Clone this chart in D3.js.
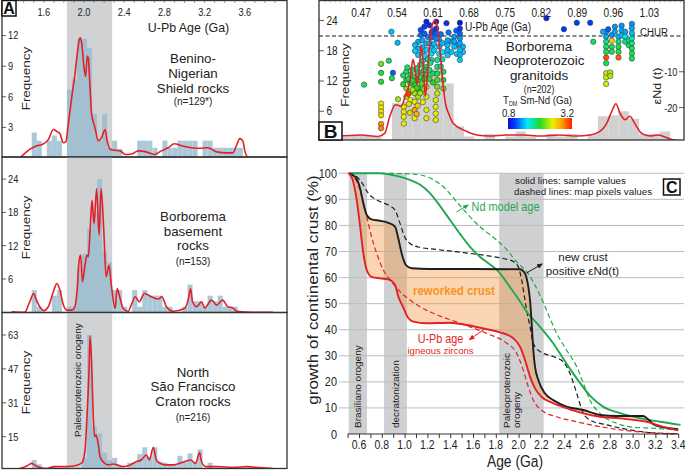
<!DOCTYPE html>
<html><head><meta charset="utf-8">
<script src="https://cdn.jsdelivr.net/npm/d3@7"></script>
<style>
html,body{margin:0;padding:0;background:#fff;}
svg text{font-family:"Liberation Sans",Arial,Helvetica,sans-serif;}
</style></head><body>
<svg id="chart" width="685" height="470"></svg>
<script>
// ================= DATA =================
// Panel A : zircon U-Pb ages (bins of 0.05 Ga)
const binStartsA = [1.48,1.53,1.58,1.63,1.68,1.73,1.78,1.83,1.88,1.93,1.98,2.03,2.08,2.13,2.18,2.23,2.28,2.33,2.38,2.43,2.48,2.53,2.58,2.63,2.68,2.73,2.78,2.83,2.88,2.93,2.98,3.03,3.08,3.13,3.18,3.23,3.28,3.33,3.38,3.43,3.48,3.53,3.58];
const binWidthA = 0.05;
const beninoCounts = [2.5,1.7,0,1.7,2.2,1.7,0,6.7,7.7,11.7,11.7,10.8,4.3,1.7,4.3,1.0,1.7,0.9,0,0,0,1.7,1.7,1.7,1.0,0,1.7,1.0,1.0,1.7,1.7,1.7,1.7,0,1.7,1.7,1.0,1.0,1.0,1.0,1.0,1.0,0];
const basementCounts = [4,1,0,0,3,4,0,1,1,8,10.5,15,18,24,11,9,4,4,1,0,4,1,4,3,3,3,1,1,0,0,1,5,2,2,1,3,2,3,1,1,1,0,0];
const saoFranciscoCounts = [4,2,0,0,1.2,0,0,0,0,0,5,63,20,16.6,7.5,4,5,1.6,0,2.7,2.7,6.8,10,5.6,10,3.2,2.7,2,2,6,3.2,7.1,3.2,9,0,2.7,0,0,0,0,0.9,0,0];
const beninoKde = [[1.36,0],[1.46,0.85],[1.53,1.2],[1.58,1.3],[1.645,1.8],[1.695,2.8],[1.73,2.6],[1.76,2.4],[1.795,1.5],[1.82,1.6],[1.84,3],[1.877,5.9],[1.91,8.2],[1.933,10.2],[1.96,11.8],[1.976,11.3],[2.0,8.9],[2.016,8.0],[2.033,10],[2.043,9.8],[2.06,6.9],[2.076,4.3],[2.109,3],[2.142,1.7],[2.175,2],[2.21,2.8],[2.23,1.7],[2.26,0.85],[2.31,0.75],[2.36,0.7],[2.41,0.35],[2.475,0.4],[2.54,0.7],[2.62,0.6],[2.70,0.35],[2.77,0.7],[2.837,1.0],[2.90,1.4],[2.97,1.2],[3.07,1.0],[3.15,0.95],[3.23,1.0],[3.32,0.6],[3.42,0.5],[3.48,0.5],[3.52,1.3],[3.55,1.9],[3.58,1.7],[3.60,0.7],[3.63,0.1],[3.75,0]];
const basementKde = [[1.28,0.1],[1.41,0],[1.46,1.9],[1.50,3.4],[1.52,2.5],[1.56,1.0],[1.60,0.3],[1.645,1],[1.695,3.7],[1.73,5.2],[1.76,4.0],[1.795,1.3],[1.83,0.4],[1.88,0.4],[1.91,1.0],[1.933,4.3],[1.95,9.1],[1.966,10.3],[1.985,5.5],[2.01,8.5],[2.03,10.3],[2.043,10],[2.06,14.5],[2.08,20.2],[2.10,16],[2.126,22.3],[2.15,13.9],[2.17,22.3],[2.196,15.1],[2.22,6.4],[2.25,8.5],[2.27,5.2],[2.31,0.7],[2.33,4.3],[2.355,2.8],[2.39,0.7],[2.44,0.2],[2.47,1.3],[2.51,2.8],[2.55,1.9],[2.60,3.4],[2.67,2.8],[2.74,2.4],[2.775,2.8],[2.82,1.0],[2.885,0.2],[3.0,0.7],[3.04,2.5],[3.06,4.3],[3.08,1.9],[3.12,1.0],[3.17,1.9],[3.20,0.8],[3.27,2.2],[3.32,1.3],[3.38,2.2],[3.43,1.0],[3.48,0.8],[3.52,0.2],[3.68,0],[3.88,0]];
const saoFranciscoKde = [[1.36,0],[1.43,1.2],[1.48,2.4],[1.51,1.6],[1.56,0.5],[1.63,0],[1.70,0.9],[1.83,0.9],[1.93,1.5],[1.98,2.7],[2.01,8.7],[2.033,27.6],[2.05,46.5],[2.06,62.5],[2.075,51],[2.09,27.6],[2.105,15],[2.12,15.8],[2.14,11.9],[2.16,5.6],[2.20,2.7],[2.24,1.7],[2.29,2.1],[2.33,1.7],[2.39,0.9],[2.46,1.7],[2.52,3.2],[2.57,4.0],[2.62,6.4],[2.65,4.0],[2.69,10],[2.72,4],[2.76,2.4],[2.82,1.7],[2.89,1.7],[2.97,2.7],[3.06,4.0],[3.11,2.4],[3.15,7.5],[3.17,3.2],[3.21,0.9],[3.32,0.9],[3.49,0.5],[3.62,0.9],[3.75,0.4],[3.88,0]];
const ageTicksA = [1.6,2.0,2.4,2.8,3.2,3.6];
const beninoTicks = [3,6,9,12];
const basementTicks = [6,12,18,24];
const saoFranciscoTicks = [15,31,47,63];
const orogenyBandA = [1.83,2.28];

// Panel B : Borborema Neoproterozoic granitoids
const binStartsB = [0.43,0.45,0.47,0.49,0.51,0.53,0.55,0.57,0.59,0.61,0.63,0.65,0.67,0.69,0.71,0.73,0.75,0.77,0.79,0.81,0.83,0.85,0.87,0.89,0.91,0.93,0.95,0.97,0.99,1.01,1.03,1.05,1.07];
const binWidthB = 0.02;
const granitoidCounts = [1.0,1.2,1.2,1.0,0,7.6,8.0,12.0,14.0,14.5,11.5,3.0,1.0,0.5,1.5,0.5,1.0,2.0,1.0,0.5,1.5,1.0,1.5,0.5,1.5,5.0,5.2,6.0,4.5,1.5,1.5,2.0,0.5];
const granitoidKde = [[0.42,1.0],[0.47,1.3],[0.503,1.0],[0.516,1.6],[0.526,5],[0.537,7.3],[0.548,7],[0.556,9],[0.565,12],[0.571,16.3],[0.575,14.3],[0.579,11.3],[0.584,15.6],[0.587,19],[0.591,15],[0.595,9],[0.600,15],[0.605,21],[0.610,23.6],[0.614,24],[0.618,23],[0.623,18.3],[0.629,11.6],[0.634,7.5],[0.640,5.6],[0.649,3.6],[0.669,2.3],[0.695,1.3],[0.72,1.1],[0.753,1.3],[0.785,1.3],[0.818,1.1],[0.856,1.3],[0.889,1.1],[0.915,1.3],[0.934,2],[0.947,3.6],[0.957,6],[0.965,7.5],[0.973,5.6],[0.983,4.3],[0.992,5],[1.002,3.5],[1.015,1.6],[1.031,1.1],[1.047,1.3],[1.057,1.0],[1.077,0.3],[1.10,0],[1.18,0]];
// [U-Pb age (Ga), eNd(t), TDM (Ga)]
const granitoidPoints = [
[0.476,-13.6,1.9],[0.509,-7.8,2.2],[0.509,-10.3,1.9],[0.509,-12.8,2.0],
[0.509,-18.9,2.5],[0.509,-20.0,2.5],[0.509,-21.1,2.55],[0.509,-22.2,2.6],[0.509,-24.6,2.85],[0.509,-25.8,2.9],
[0.524,-6.9,1.9],[0.530,-11.8,1.9],[0.532,-10.3,1.15],[0.529,1.2,1.4],[0.541,-1.9,1.4],[0.542,-17.7,2.3],
[0.553,-19.8,2.45],[0.553,-21.2,2.45],[0.553,-22.6,2.5],[0.553,-24.5,2.5],
[0.558,-10.0,1.9],[0.558,-12.3,1.95],[0.558,-14.7,2.2],[0.558,-17.0,2.4],
[0.566,-10.9,1.9],[0.566,-13.3,2.0],[0.566,-15.6,2.4],[0.566,-17.9,2.5],
[0.574,-11.4,1.9],[0.574,-13.7,2.0],[0.574,-16.0,2.3],[0.574,-18.4,2.5],[0.574,-20.7,2.8],[0.574,-23.0,2.5],
[0.581,-10.0,1.85],[0.581,-12.3,1.9],[0.581,-14.7,2.1],[0.581,-17.0,2.3],
[0.588,-10.9,1.9],[0.588,-13.3,2.1],[0.588,-15.6,2.3],
[0.597,-8.6,1.85],[0.597,-10.9,1.9],[0.597,-14.2,2.35],[0.597,-17.0,2.45],[0.597,-20.7,2.5],[0.597,-23.0,2.5],
[0.562,-16.2,3.1],[0.562,-12.0,1.9],[0.570,-12.5,1.95],[0.578,-14.5,2.05],[0.585,-11.5,1.9],[0.593,-12.0,2.0],
[0.552,-11.0,1.9],[0.552,-13.5,2.0],[0.560,-8.8,1.85],[0.570,-9.5,1.85],[0.578,-9.0,1.85],[0.585,-16.0,2.3],[0.592,-9.5,1.85],[0.592,-14.8,2.2],
[0.603,-9.5,1.85],[0.603,-12.0,1.95],[0.610,-10.5,1.9],[0.610,-13.0,2.0],[0.570,-15.0,2.3],[0.563,-19.0,2.55],[0.580,-19.5,2.6],[0.590,-18.5,2.5],[0.565,-21.5,2.6],[0.578,-21.8,2.75],
[0.581,-1.6,1.35],[0.581,-3.5,1.4],[0.581,-5.3,1.45],[0.589,-1.2,1.35],[0.589,-3.1,1.4],[0.589,-4.9,1.5],
[0.597,-2.1,1.4],[0.597,-3.9,1.45],[0.607,-3.1,1.4],[0.607,-4.9,1.5],[0.607,-6.7,1.7],
[0.575,-2.5,1.4],[0.575,-4.2,1.45],[0.594,-5.6,1.5],[0.603,-2.0,1.4],[0.612,-2.2,1.4],[0.612,-4.0,1.45],[0.622,-1.0,1.35],[0.622,-3.0,1.4],[0.622,-5.0,1.5],
[0.645,-1.5,1.35],[0.645,-4.5,1.45],[0.656,-2.5,1.4],[0.656,-5.0,1.45],[0.668,-3.0,1.4],[0.668,-4.5,1.45],
[0.603,3.0,1.0],[0.610,1.5,1.1],[0.625,0.5,1.2],[0.640,1.0,1.2],[0.655,1.5,1.15],[0.600,-0.3,1.25],
[0.586,1.7,1.1],[0.586,0.3,1.2],[0.593,2.6,1.05],[0.593,0.7,1.15],[0.597,4.0,0.9],[0.616,4.0,0.85],[0.607,1.0,1.1],[0.607,-0.4,1.2],[0.616,2.1,1.05],[0.616,0.7,1.15],[0.616,-0.7,1.25],
[0.600,-6.5,1.7],[0.605,-7.5,1.8],[0.590,-7.0,1.7],[0.585,-8.0,1.8],
[0.618,-6.7,1.7],[0.618,-8.6,1.8],[0.618,-10.5,1.9],[0.618,-12.3,2.1],[0.618,-14.2,2.2],[0.618,-16.1,2.4],
[0.615,-17.9,2.45],[0.615,-19.8,2.45],[0.615,-21.7,2.5],[0.615,-23.5,2.5],
[0.636,3.6,1.0],[0.662,3.7,0.85],
[0.662,2.1,1.05],[0.662,0.7,1.15],[0.662,-0.7,1.3],[0.662,-2.1,1.35],[0.662,-3.9,1.4],[0.662,-5.3,1.4],[0.662,-6.7,1.45],
[0.651,-0.2,1.3],[0.651,-1.6,1.35],[0.651,-3.0,1.4],
[0.638,-1.2,1.35],[0.638,-2.6,1.4],[0.638,-4.0,1.4],[0.638,-5.4,1.45],
[0.630,-10.0,1.9],[0.630,-12.3,2.0],[0.630,-14.7,2.2],
[0.628,-2.0,1.4],[0.628,-4.5,1.5],[0.628,-6.5,1.7],[0.625,-8.5,1.8],
[0.830,5.0,0.95],[0.864,1.9,1.05],[0.889,3.7,1.05],[0.915,3.7,1.05],[0.921,-1.6,1.85],
[0.946,1.2,1.3],[0.946,-0.2,1.35],[0.946,-1.6,1.8],[0.946,-3.0,1.85],[0.946,-4.4,1.9],[0.946,-6.0,3.05],[0.946,-7.6,1.9],[0.946,-10.4,2.4],[0.946,-11.6,2.4],[0.946,-13.4,2.45],
[0.954,-10.2,2.35],[0.954,-11.2,2.35],
[0.957,0.3,1.3],[0.957,-1.3,2.6],[0.957,-3.0,1.9],[0.957,-4.4,1.9],
[0.963,2.6,1.3],[0.963,1.2,1.35],
[0.970,-0.2,1.4],[0.970,-1.6,1.85],[0.970,-3.0,1.9],[0.970,-4.4,1.9],[0.970,-6.0,3.0],
[0.976,2.9,1.3],[0.976,1.5,1.35],[0.976,0.1,1.4],
[0.983,1.2,1.35],[0.983,-0.2,1.5],[0.983,-1.6,1.8],
[0.990,-1.2,1.8],[0.990,-2.6,1.85],
[0.996,3.4,1.3],[0.996,2.2,1.35],[0.996,0.8,1.4],[0.996,-0.7,1.7],[0.996,-2.1,1.8],[0.996,-3.5,1.85],[0.996,-4.9,1.9],[0.996,-6.3,1.9],
[0.940,1.2,1.35],[0.950,1.9,1.15]
];
const ageTicksB = [0.47,0.54,0.61,0.68,0.75,0.82,0.89,0.96,1.03];
const freqTicksB = [6,12,18,24];
const eNdTicksB = [-10,-20];
const tdmRange = [0.8,3.2];

// Panel C : crustal growth curves [age (Ga), %]
const bandsC = [[0.51,0.67],[0.82,1.02],[1.83,2.22]];
const ageTicksC = [0.6,0.8,1.0,1.2,1.4,1.6,1.8,2.0,2.2,2.4,2.6,2.8,3.0,3.2,3.4];
const pctTicksC = [0,10,20,30,40,50,60,70,80,90,100];
const newCrustSample = [[0.51,100],[0.565,98.7],[0.61,94.2],[0.638,88.5],[0.668,84],[0.71,82.3],[0.784,81.8],[0.857,81],[0.916,79.5],[0.945,75],[0.974,69.3],[1.012,64.8],[1.062,63.6],[1.22,63.3],[1.6,63.3],[2.01,63.2],[2.056,61.6],[2.085,56.5],[2.1,51.4],[2.12,38.6],[2.129,32.2],[2.144,25.8],[2.173,20.7],[2.23,15.6],[2.304,13],[2.42,10.5],[2.568,9.2],[2.714,7.3],[2.86,6.9],[3.006,6.9],[3.094,6.9],[3.138,5.6],[3.18,3.8],[3.27,2.6],[3.40,1.8]];
const newCrustMap = [[0.51,100],[0.58,98.7],[0.638,95.5],[0.682,92.3],[0.755,89.8],[0.857,87.8],[0.916,85.9],[0.96,80.8],[1.0,75.7],[1.047,73.1],[1.135,71.6],[1.28,70.8],[1.515,69.6],[1.75,68.2],[1.896,67],[1.953,66.2],[1.997,64.2],[2.027,59],[2.056,51.4],[2.07,47.6],[2.1,41.2],[2.129,34.8],[2.188,31.6],[2.304,29.7],[2.392,27.7],[2.45,23.3],[2.51,15.6],[2.568,7.9],[2.626,5.4],[2.773,3.5],[2.948,1.8],[3.153,0.5],[3.40,0]];
const upbSample = [[0.51,100],[0.545,97.4],[0.58,89.8],[0.61,79.5],[0.638,69.3],[0.668,62.9],[0.71,60.3],[0.784,59.7],[0.857,59.3],[0.916,57.2],[0.945,52.7],[0.989,48.5],[1.018,45.5],[1.076,43.1],[1.194,42.5],[1.398,42.7],[1.545,41.8],[1.72,40.2],[1.837,39],[1.954,36.7],[2.012,33.5],[2.056,28.4],[2.1,22],[2.144,17.5],[2.2,14.3],[2.304,11.8],[2.42,9.9],[2.568,7.9],[2.714,6.6],[2.89,6],[3.006,5.4],[3.124,4.7],[3.24,3.1],[3.40,1.4]];
const upbMap = [[0.51,100],[0.55,98.7],[0.594,95.5],[0.638,88.5],[0.682,80.8],[0.71,75.7],[0.755,69.3],[0.813,62.9],[0.887,58.4],[0.96,54.6],[1.047,51.4],[1.135,48.8],[1.252,46.3],[1.486,42.5],[1.72,38.6],[1.896,34.8],[1.983,31],[2.041,24.5],[2.085,18.1],[2.129,13],[2.2,9.2],[2.334,6.6],[2.51,4.7],[2.714,2.8],[2.948,1.3],[3.18,0.5],[3.40,0.1]];
const ndSample = [[0.51,100],[0.78,100],[0.93,99],[1.05,97.4],[1.14,95.5],[1.22,92.5],[1.31,87.5],[1.40,82],[1.49,76.5],[1.57,72],[1.66,68],[1.75,65],[1.82,62.5],[1.93,56],[2.01,51],[2.07,47],[2.19,41],[2.30,35],[2.42,27],[2.54,19.5],[2.63,14.5],[2.74,10.5],[2.89,8],[3.07,6],[3.24,4.7],[3.42,3.5]];
const ndMap = [[0.51,100],[0.80,100],[1.076,99.7],[1.194,98.7],[1.282,96.8],[1.369,93.6],[1.457,89.1],[1.545,84.7],[1.661,79.5],[1.808,74.4],[1.90,70.5],[1.983,66],[2.07,62.3],[2.19,53],[2.25,47],[2.334,38.6],[2.42,32.2],[2.51,25.8],[2.568,19.4],[2.626,13],[2.714,7.9],[2.86,4.1],[3.006,2.6],[3.18,2.2],[3.40,1.5]];

// ================= DRAWING =================
const svg = d3.select("#chart");
const defs = svg.append("defs");
const RED = "#e41f26", GREEN = "#1fa84f", BLACK = "#1e1e1e", INK = "#222";
const SX = 0.84;

function label(g, x, y, str, size, o = {}) {
  const t = g.append("text")
    .attr("transform", o.rot ? `translate(${x},${y}) rotate(-90) scale(1,${SX})` : `translate(${x},${y}) scale(${o.sx || SX},1)`)
    .attr("font-size", size)
    .attr("text-anchor", o.anchor || "start")
    .attr("fill", o.fill || INK);
  if (o.bold) t.attr("font-weight", "bold");
  t.text(str);
  return t;
}
function boxLabel(x, y, w, h, ch, size) {
  svg.append("rect").attr("x", x).attr("y", y).attr("width", w).attr("height", h)
    .attr("fill", "#fff").attr("stroke", "#111").attr("stroke-width", 1.5);
  label(svg, x + w / 2, y + h - 2.5, ch, size, {anchor: "middle", bold: true, fill: "#111", sx: 1});
}

// ---------- Panel A ----------
const xA = d3.scaleLinear().domain([1.2, 4.0]).range([3.6, 285]);
const panelsA = [
  {top: 0.5, bottom: 157, y: d3.scaleLinear().domain([0, 12]).range([158, 35.6]), counts: beninoCounts, kde: beninoKde, ticks: beninoTicks,
   lines: ["Benino-", "Nigerian", "Shield rocks"], n: "(n=129*)", ty: [62.5, 77.5, 92.5, 105], fy: 78.5},
  {top: 157, bottom: 312.5, y: d3.scaleLinear().domain([0, 24]).range([312.3, 179.1]), counts: basementCounts, kde: basementKde, ticks: basementTicks,
   lines: ["Borborema", "basement", "rocks"], n: "(n=153)", ty: [221, 235.7, 250.2, 264.5], fy: 227.5},
  {top: 312.5, bottom: 468.5, y: d3.scaleLinear().domain([0, 63]).range([468.5, 335]), counts: saoFranciscoCounts, kde: saoFranciscoKde, ticks: saoFranciscoTicks,
   lines: ["North", "São Francisco", "Craton rocks"], n: "(n=216)", ty: [376.5, 391, 405.5, 421], fy: 382.5}
];
panelsA.forEach((p, i) => {
  const g = svg.append("g");
  const cid = "clipA" + i;
  defs.append("clipPath").attr("id", cid).append("rect")
    .attr("x", 2).attr("y", p.top).attr("width", 285).attr("height", p.bottom - p.top);
  const c = g.append("g").attr("clip-path", `url(#${cid})`);
  c.append("rect").attr("x", xA(orogenyBandA[0])).attr("y", p.top)
    .attr("width", xA(orogenyBandA[1]) - xA(orogenyBandA[0])).attr("height", p.bottom - p.top).attr("fill", "#d1d2d4");
  c.selectAll("rect.bar").data(binStartsA.map((b, j) => ({b, v: p.counts[j]})).filter(d => d.v > 0)).join("rect")
    .attr("class", "bar")
    .attr("x", d => xA(d.b)).attr("width", d => xA(d.b + binWidthA) - xA(d.b))
    .attr("y", d => p.y(d.v)).attr("height", d => p.y(0) - p.y(d.v))
    .attr("fill", "#98bcd1").attr("opacity", 0.82);
  c.append("path").datum(p.kde)
    .attr("d", d3.line().x(d => xA(d[0])).y(d => p.y(d[1])).curve(d3.curveMonotoneX))
    .attr("fill", "none").attr("stroke", RED).attr("stroke-width", 1.6);
  p.ticks.forEach(t => {
    g.append("line").attr("x1", 2).attr("x2", 6).attr("y1", p.y(t)).attr("y2", p.y(t)).attr("stroke", "#333").attr("stroke-width", 0.8);
    label(g, 8, p.y(t) + 3.8, String(t), 11);
  });
  label(g, 30, p.fy, "Frequency", 13.5, {rot: true, anchor: "middle"});
  p.lines.forEach((s, k) => label(g, 193, p.ty[k], s, 12.8, {anchor: "middle", sx: 1.04}));
  label(g, 193, p.ty[3], p.n, 10, {anchor: "middle", sx: 1});
  g.append("rect").attr("x", 2).attr("y", p.top).attr("width", 285).attr("height", p.bottom - p.top)
    .attr("fill", "none").attr("stroke", "#333").attr("stroke-width", 1.3);
});
// top axis of A
d3.range(1.3, 4.0, 0.1).forEach(a => {
  svg.append("line").attr("x1", xA(a)).attr("x2", xA(a)).attr("y1", 0.5).attr("y2", 3)
    .attr("stroke", "#555").attr("stroke-width", 0.6);
});
ageTicksA.forEach(a => label(svg, xA(a), 16, a.toFixed(1), 11, {anchor: "middle"}));
label(svg, 188.5, 31.5, "U-Pb Age (Ga)", 13.5, {anchor: "middle", sx: 0.92});
label(svg, 80.5, 437, "Paleoproterozoic orogeny", 10, {rot: true});
boxLabel(2, 0.5, 14, 15.5, "A", 16);

// ---------- Panel B ----------
const B = {l: 319, r: 684, t: 0.5, b: 140};
const xB = d3.scaleLinear().domain([0.47, 1.03]).range([361, 649.4]);
const fB = d3.scaleLinear().domain([0, 24]).range([141.5, 20.5]);
const eB = d3.scaleLinear().domain([0, -20]).range([36, 107.5]);
const tdmColor = d3.scaleLinear()
  .domain([0, 0.1, 0.3, 0.5, 0.7, 0.85, 1].map(t => tdmRange[0] + t * (tdmRange[1] - tdmRange[0])))
  .range(["#1010c8", "#0038ff", "#00e8ff", "#20dc28", "#e8f000", "#ff9a00", "#ff1a00"]);
defs.append("clipPath").attr("id", "clipB").append("rect")
  .attr("x", B.l).attr("y", B.t).attr("width", B.r - B.l).attr("height", B.b - B.t);
const gB = svg.append("g");
const cB = gB.append("g").attr("clip-path", "url(#clipB)");
cB.selectAll("rect.barB").data(binStartsB.map((b, j) => ({b, v: granitoidCounts[j]})).filter(d => d.v > 0)).join("rect")
  .attr("class", "barB")
  .attr("x", d => xB(d.b)).attr("width", d => xB(d.b + binWidthB) - xB(d.b))
  .attr("y", d => fB(d.v)).attr("height", d => fB(0) - fB(d.v)).attr("fill", "#d0d0d0");
cB.append("line").attr("x1", B.l).attr("x2", B.r).attr("y1", eB(0)).attr("y2", eB(0))
  .attr("stroke", "#111").attr("stroke-width", 1).attr("stroke-dasharray", "4,2.5");
cB.selectAll("circle").data(granitoidPoints).join("circle")
  .attr("cx", d => xB(d[0])).attr("cy", d => eB(d[1])).attr("r", 2.7)
  .attr("fill", d => tdmColor(d[2])).attr("stroke", "#333").attr("stroke-width", 0.55);
cB.append("path").datum(granitoidKde)
  .attr("d", d3.line().x(d => xB(d[0])).y(d => fB(d[1])).curve(d3.curveMonotoneX))
  .attr("fill", "none").attr("stroke", RED).attr("stroke-width", 1.6);
d3.range(0.40, 1.18, 0.01).forEach(a => {
  gB.append("line").attr("x1", xB(a)).attr("x2", xB(a)).attr("y1", 0.5).attr("y2", 2.5).attr("stroke", "#666").attr("stroke-width", 0.5);
});
ageTicksB.forEach(a => label(gB, xB(a), 16.5, a.toFixed(2), 12, {anchor: "middle"}));
freqTicksB.forEach(f => {
  gB.append("line").attr("x1", B.l).attr("x2", B.l + 5).attr("y1", fB(f)).attr("y2", fB(f)).attr("stroke", "#333").attr("stroke-width", 0.8);
  label(gB, B.l + 7.5, fB(f) + 4, String(f), 12);
});
eNdTicksB.forEach(e => {
  gB.append("line").attr("x1", B.r - 5).attr("x2", B.r).attr("y1", eB(e)).attr("y2", eB(e)).attr("stroke", "#333").attr("stroke-width", 0.8);
  label(gB, B.r - 6.5, eB(e) + 4, String(e), 11, {anchor: "end"});
});
label(gB, 349, 75, "Frequency", 13.5, {rot: true, anchor: "middle"});
label(gB, 661, 86, "εNd (t)", 12.5, {rot: true, anchor: "middle"});
label(gB, 498, 31, "U-Pb Age (Ga)", 12, {anchor: "middle"});
label(gB, 654, 35.5, "CHUR", 11.5, {anchor: "middle"});
label(gB, 539, 50.5, "Borborema", 12.8, {anchor: "middle", sx: 1.05});
label(gB, 539, 65, "Neoproterozoic", 12.8, {anchor: "middle", sx: 1.05});
label(gB, 539, 79.5, "granitoids", 12.8, {anchor: "middle", sx: 1.05});
label(gB, 539, 92.5, "(n=202)", 10.5, {anchor: "middle"});
const tdmT = label(gB, 503, 104, "", 11.5);
tdmT.append("tspan").text("T");
tdmT.append("tspan").attr("font-size", 6.5).attr("dy", 2).text("DM");
tdmT.append("tspan").attr("dy", -2).text(" Sm-Nd (Ga)");
const grad = defs.append("linearGradient").attr("id", "tdmGrad");
tdmColor.domain().forEach((v, k) => grad.append("stop")
  .attr("offset", (v - tdmRange[0]) / (tdmRange[1] - tdmRange[0])).attr("stop-color", tdmColor.range()[k]));
gB.append("rect").attr("x", 508).attr("y", 118).attr("width", 64).attr("height", 11).attr("fill", "url(#tdmGrad)");
label(gB, 502, 116.8, tdmRange[0].toFixed(1), 11.5);
label(gB, 574, 116.8, tdmRange[1].toFixed(1), 11.5, {anchor: "end"});
gB.append("rect").attr("x", B.l).attr("y", B.t).attr("width", B.r - B.l).attr("height", B.b - B.t)
  .attr("fill", "none").attr("stroke", "#333").attr("stroke-width", 1.3);
boxLabel(319, 122, 23, 18, "B", 19);

// ---------- Panel C ----------
const xC = d3.scaleLinear().domain([0.6, 3.4]).range([359, 678.2]);
const yC = d3.scaleLinear().domain([0, 100]).range([434, 173.3]);
const gC = svg.append("g");
bandsC.forEach(b => gC.append("rect").attr("x", xC(b[0])).attr("width", xC(b[1]) - xC(b[0]))
  .attr("y", yC(100)).attr("height", yC(0) - yC(100)).attr("fill", "#cfd0d2"));
pctTicksC.filter(v => v > 0).forEach(v => gC.append("line").attr("x1", 339).attr("x2", 684)
  .attr("y1", yC(v)).attr("y2", yC(v)).attr("stroke", "#bdbdbd").attr("stroke-width", 1));
pctTicksC.forEach(v => label(gC, 337, yC(v) + 4.5, String(v), 13, {anchor: "end"}));
const lineC = d3.line().x(d => xC(d[0])).y(d => yC(d[1])).curve(d3.curveMonotoneX);
// reworked crust area between new-crust (sample) and U-Pb (sample) curves
const upper = lineC(newCrustSample);
const lower = lineC(upbSample.slice().reverse());
gC.append("path").attr("d", upper + "L" + lower.slice(1) + "Z")
  .attr("fill", "#f5963f").attr("fill-opacity", 0.4);
const curves = [
  {d: ndMap, c: GREEN, dash: "5,3", w: 1.2},
  {d: newCrustMap, c: BLACK, dash: "5,3", w: 1.2},
  {d: upbMap, c: RED, dash: "5,3", w: 1.2},
  {d: ndSample, c: GREEN, dash: null, w: 1.9},
  {d: newCrustSample, c: BLACK, dash: null, w: 1.9},
  {d: upbSample, c: RED, dash: null, w: 1.9}
];
curves.forEach(k => gC.append("path").attr("d", lineC(k.d)).attr("fill", "none")
  .attr("stroke", k.c).attr("stroke-width", k.w).attr("stroke-dasharray", k.dash));
// x axis
const axC = gC.append("g").attr("transform", `translate(0,${yC(0)})`)
  .call(d3.axisBottom(xC).tickValues(d3.range(5, 35, 1).map(v => v / 10)).tickSize(4).tickFormat(""));
axC.select(".domain").attr("stroke", "#333").attr("d", `M${xC(0.5)},0H${xC(3.4)}`);
axC.selectAll(".tick line").attr("stroke", "#333");
ageTicksC.forEach(a => label(gC, xC(a), 449, a.toFixed(1), 12.5, {anchor: "middle"}));
label(gC, 515, 467, "Age (Ga)", 16.5, {anchor: "middle"});
label(gC, 318, 290, "growth of continental crust (%)", 17, {rot: true, anchor: "middle"});
// band labels
label(gC, xC(0.59) + 3.5, 428, "Brasiliano orogeny", 10, {rot: true});
label(gC, xC(0.92) + 3.5, 428, "decratonization", 10, {rot: true});
label(gC, 510, 428, "Paleoproterozoic", 10, {rot: true});
label(gC, 520, 428, "orogeny", 10, {rot: true});
// annotations
label(gC, 515, 183.5, "solid lines: sample values", 9.6, {sx: 1.02});
label(gC, 514, 194.5, "dashed lines: map pixels values", 9.6, {sx: 1.02});
boxLabel(663.5, 179, 16.5, 16, "C", 16);
function arrowMarker(id, color) {
  defs.append("marker").attr("id", id).attr("viewBox", "0 0 10 10").attr("refX", 8).attr("refY", 5)
    .attr("markerWidth", 6).attr("markerHeight", 6).attr("orient", "auto")
    .append("path").attr("d", "M0,1L10,5L0,9Z").attr("fill", color);
}
arrowMarker("arG", GREEN); arrowMarker("arK", BLACK); arrowMarker("arR", RED);
function arrow(x1, y1, x2, y2, color, id) {
  gC.append("line").attr("x1", x1).attr("y1", y1).attr("x2", x2).attr("y2", y2)
    .attr("stroke", color).attr("stroke-width", 1).attr("marker-end", `url(#${id})`);
}
arrow(456.5, 212, 468, 205, GREEN, "arG");
label(gC, 471.5, 211, "Nd model age", 13, {fill: GREEN});
arrow(526.5, 273, 542, 264, BLACK, "arK");
label(gC, 583, 261, "new crust", 11.6, {anchor: "middle", sx: 1});
label(gC, 582.5, 274.5, "positive εNd(t)", 11.6, {anchor: "middle", sx: 1});
label(gC, 454, 294.5, "reworked crust", 13.6, {anchor: "middle", bold: true, fill: "#f7941d"});
arrow(485.5, 328.5, 469.5, 339.5, RED, "arR");
label(gC, 440.5, 342.5, "U-Pb age", 12, {anchor: "middle", fill: RED, sx: 0.9});
label(gC, 440.5, 353.8, "igneous zircons", 9.5, {anchor: "middle", fill: RED, sx: 1});
</script>
</body></html>
